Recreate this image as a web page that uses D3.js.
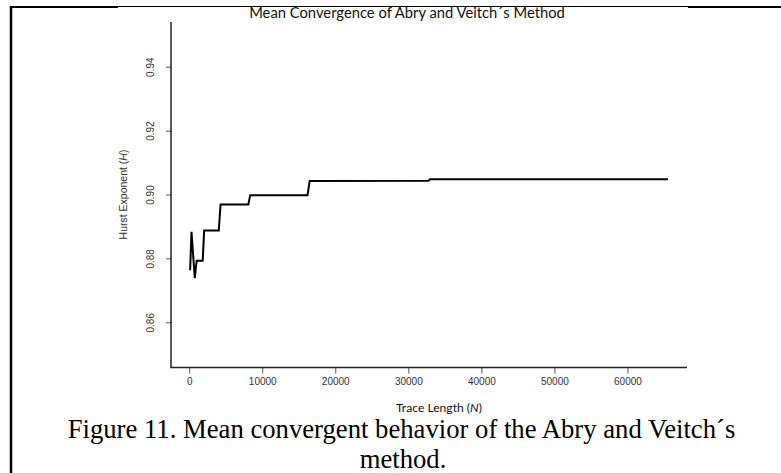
<!DOCTYPE html>
<html><head><meta charset="utf-8">
<script src="https://cdn.jsdelivr.net/npm/d3@7"></script>
<style>body{margin:0;background:#fff}svg{display:block}</style>
</head><body>
<svg id="c" width="781" height="473"></svg>
<script>
// ---- data ----
const traceLength = [128, 320, 768, 1024, 1850, 2050, 4050, 4300, 8100, 8350, 16200, 16500, 32750, 33000, 65536];
const hurst       = [0.8763, 0.8883, 0.8738, 0.8793, 0.8793, 0.8887, 0.8887, 0.8969, 0.8969, 0.8998, 0.8998, 0.9042, 0.9043, 0.9048, 0.9048];
const xTicks = [0, 10000, 20000, 30000, 40000, 50000, 60000];
const yTicks = [0.86, 0.88, 0.90, 0.92, 0.94];
const titleText = "Mean Convergence of Abry and Veitch\u00b4s Method";
const xLabel = "Trace Length (", xLabelVar = "N";
const yLabel = "Hurst Exponent (", yLabelVar = "H";
const caption1 = "Figure 11. Mean convergent behavior of the Abry and Veitch\u00b4s";
const caption2 = "method.";

const svg = d3.select("#c");
const x = d3.scaleLinear().domain([-2488, 68152]).range([171, 687]);
const y = d3.scaleLinear().domain([0.846, 0.954]).range([367, 22]);

// document frame lines
svg.append("line").attr("x1",11).attr("x2",11).attr("y1",6).attr("y2",473).attr("stroke","#000").attr("stroke-width",2.5);
svg.append("line").attr("x1",10).attr("x2",118).attr("y1",7).attr("y2",7).attr("stroke","#000").attr("stroke-width",2);
svg.append("line").attr("x1",118).attr("x2",688).attr("y1",6.5).attr("y2",6.5).attr("stroke","#000").attr("stroke-width",1);
svg.append("line").attr("x1",688).attr("x2",781).attr("y1",7).attr("y2",7).attr("stroke","#000").attr("stroke-width",2);

const sansC = "Lato, 'Open Sans', sans-serif";
function fitText(sel, target){
  const w = sel.node().getComputedTextLength();
  const fs = parseFloat(sel.attr("font-size"));
  sel.attr("font-size", fs*target/w);
}

// title
const t = svg.append("text").attr("x",407).attr("y",18).attr("text-anchor","middle")
  .attr("font-family",sansC).attr("font-size",15).attr("fill","#111").text(titleText);
fitText(t, 316);

// axes
const ax = svg.append("g").attr("transform","translate(0,367.5)")
  .call(d3.axisBottom(x).tickValues(xTicks).tickFormat(d3.format("d")).tickSize(6).tickPadding(4));
ax.select(".domain").remove();
ax.selectAll("line").attr("stroke","#555");
ax.selectAll("text").attr("font-family","'Liberation Sans', Arial, sans-serif").attr("font-size",10).attr("fill","#333");

const ay = svg.append("g").attr("transform","translate(171,0)")
  .call(d3.axisLeft(y).tickValues(yTicks).tickFormat(d3.format(".2f")).tickSize(5).tickPadding(0));
ay.select(".domain").remove();
ay.selectAll("line").attr("stroke","#555");
ay.selectAll("text").attr("font-family","'Liberation Sans', Arial, sans-serif").attr("font-size",10).attr("fill","#333")
  .attr("text-anchor","middle").attr("dy",null).attr("x",null)
  .attr("transform","translate(-17.5,0) rotate(-90)").attr("y",0);

// L-shaped box
svg.append("path").attr("d",`M171,22V367.5H687`).attr("fill","none").attr("stroke","#222").attr("stroke-width",1.5);

// line
const pts = traceLength.map((n,i)=>[n,hurst[i]]);
svg.append("path").datum(pts)
  .attr("d", d3.line().x(d=>x(d[0])).y(d=>y(d[1])))
  .attr("fill","none").attr("stroke","#000").attr("stroke-width",2).attr("stroke-linejoin","miter");

// axis labels
const xl = svg.append("text").attr("x",439).attr("y",411.5).attr("text-anchor","middle")
  .attr("font-family",sansC).attr("font-size",11).attr("fill","#111");
xl.append("tspan").text(xLabel);
xl.append("tspan").attr("font-style","italic").text(xLabelVar);
xl.append("tspan").text(")");
fitText(xl, 86);

const yl = svg.append("text").attr("transform","translate(127,194.5) rotate(-90)").attr("text-anchor","middle")
  .attr("font-family","'Liberation Sans', Arial, sans-serif").attr("font-size",10.5).attr("fill","#333");
yl.append("tspan").text(yLabel);
yl.append("tspan").attr("font-style","italic").text(yLabelVar);
yl.append("tspan").text(")");

// caption
const c1 = svg.append("text").attr("x",401.5).attr("y",438).attr("text-anchor","middle")
  .attr("font-family","'Liberation Serif', 'Times New Roman', serif").attr("font-size",23).attr("fill","#000").text(caption1);
fitText(c1, 668);
svg.append("text").attr("x",403).attr("y",467.5).attr("text-anchor","middle")
  .attr("font-family","'Liberation Serif', 'Times New Roman', serif").attr("font-size",c1.attr("font-size")).attr("fill","#000").text(caption2);
</script>
</body></html>
